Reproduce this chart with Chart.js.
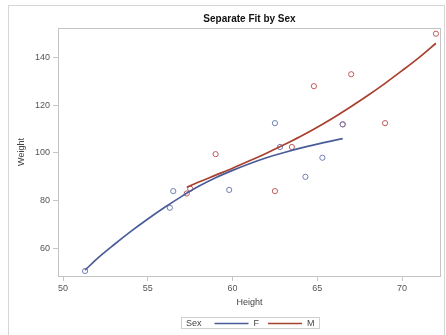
<!DOCTYPE html>
<html>
<head>
<meta charset="utf-8">
<script src="https://cdn.jsdelivr.net/npm/chart.js@4"></script>
<style>
  html, body { margin: 0; padding: 0; background: #fff; }
  #wrap { width: 446px; height: 335px; position: relative; }
</style>
</head>
<body>
<div id="wrap"><canvas id="c" width="446" height="335"></canvas></div>
<script>
// ---- Data (sashelp.class style) ----
const chartTitle = "Separate Fit by Sex";
const xTitle = "Height";
const yTitle = "Weight";
const legendTitle = "Sex";
const groups = ["F", "M"];

const heightF = [56.5, 65.3, 62.8, 59.8, 62.5, 51.3, 64.3, 56.3, 66.5];
const weightF = [84, 98, 102.5, 84.5, 112.5, 50.5, 90, 77, 112];
const heightM = [69, 63.5, 57.3, 62.5, 59, 72, 64.8, 67, 57.5, 66.5];
const weightM = [112.5, 102.5, 83, 84, 99.5, 150, 128, 133, 85, 112];

// fit curves
const fitHeightF = [51.3, 52, 53, 54, 55, 56, 57, 58, 59, 60, 61, 62, 63, 64, 65, 66, 66.5];
const fitWeightF = [50.9, 55.6, 61.5, 67.1, 72.3, 77.2, 81.8, 86.0, 89.6, 92.7, 95.5, 98.0, 100.1, 102.0, 103.7, 105.3, 106.0];
const fitHeightM = [57.3, 58, 59, 60, 61, 62, 63, 64, 65, 66, 67, 68, 69, 70, 71, 72];
const fitWeightM = [85.6, 87.8, 90.7, 93.6, 96.7, 99.9, 103.3, 106.9, 110.8, 115.0, 119.5, 124.2, 129.2, 134.5, 140.0, 146.0];

const xTicks = [50, 55, 60, 65, 70];
const yTicks = [60, 80, 100, 120, 140];

// ---- Styles ----
const lineColors = ["#4a5c9a", "#A8402F"];
const markerColors = ["#6F7EB3", "#C05A5A"];
const FONT = "'Liberation Sans', Arial, sans-serif";
const frameColor = "#c4c4c4";
const textColor = "#555555";

const pts = (xs, ys) => xs.map((x, i) => ({ x: x, y: ys[i] }));

const framePlugin = {
  id: 'frame',
  beforeDraw(chart) {
    const ctx = chart.ctx;
    ctx.save();
    ctx.strokeStyle = '#d6d6d6';
    ctx.lineWidth = 1;
    ctx.strokeRect(8.5, 5.5, 436, 340);
    ctx.restore();
  },
  afterDatasetsDraw(chart) {
    const a = chart.chartArea;
    const ctx = chart.ctx;
    ctx.save();
    ctx.strokeStyle = frameColor;
    ctx.lineWidth = 1;
    ctx.strokeRect(Math.round(a.left) + 0.5, Math.round(a.top) + 0.5,
                   Math.round(a.right - a.left) - 1, Math.round(a.bottom - a.top));
    ctx.restore();
  },
  afterDraw(chart) {
    // legend: "Sex  ——— F  ——— M" in a box
    const ctx = chart.ctx;
    const a = chart.chartArea;
    ctx.save();
    ctx.font = "9px " + FONT;
    ctx.textBaseline = 'middle';
    const fits = chart.data.datasets.filter(d => d.isFit);
    const lineLen = 34, gapTitle = 13, gapText = 5, gapItem = 9, padL = 5, padR = 4;
    let total = padL + ctx.measureText(legendTitle).width + gapTitle;
    fits.forEach((d, i) => {
      total += lineLen + gapText + ctx.measureText(d.label).width;
      if (i < fits.length - 1) total += gapItem;
    });
    total += padR;
    const left = Math.round((a.left + a.right) / 2 - total / 2);
    const top = 317, h = 11;
    ctx.strokeStyle = '#cfcfcf';
    ctx.lineWidth = 1;
    ctx.strokeRect(left + 0.5, top + 0.5, Math.round(total), h);
    const cy = top + h / 2 + 1;
    let x = left + padL;
    ctx.fillStyle = '#444';
    ctx.fillText(legendTitle, x, cy);
    x += ctx.measureText(legendTitle).width + gapTitle;
    fits.forEach((d, i) => {
      ctx.strokeStyle = d.borderColor;
      ctx.lineWidth = 1.6;
      ctx.beginPath();
      ctx.moveTo(x, cy);
      ctx.lineTo(x + lineLen, cy);
      ctx.stroke();
      x += lineLen + gapText;
      ctx.fillStyle = '#444';
      ctx.fillText(d.label, x, cy);
      x += ctx.measureText(d.label).width + gapItem;
    });
    ctx.restore();
  }
};

const ctx = document.getElementById('c').getContext('2d');
new Chart(ctx, {
  type: 'scatter',
  data: {
    datasets: [
      {
        label: groups[0], isFit: true, data: pts(fitHeightF, fitWeightF),
        showLine: true, borderColor: lineColors[0], borderWidth: 1.7,
        pointRadius: 0, cubicInterpolationMode: 'monotone', fill: false, order: 1
      },
      {
        label: groups[1], isFit: true, data: pts(fitHeightM, fitWeightM),
        showLine: true, borderColor: lineColors[1], borderWidth: 1.7,
        pointRadius: 0, cubicInterpolationMode: 'monotone', fill: false, order: 1
      },
      {
        label: groups[0] + ' obs', data: pts(heightF, weightF),
        borderColor: markerColors[0], backgroundColor: 'rgba(0,0,0,0)',
        pointRadius: 2.6, pointBorderWidth: 1, showLine: false, order: 2
      },
      {
        label: groups[1] + ' obs', data: pts(heightM, weightM),
        borderColor: markerColors[1], backgroundColor: 'rgba(0,0,0,0)',
        pointRadius: 2.6, pointBorderWidth: 1, showLine: false, order: 2
      }
    ]
  },
  options: {
    responsive: false,
    animation: false,
    events: [],
    layout: { padding: { left: 8, right: 4, top: 0, bottom: 23 } },
    plugins: {
      legend: { display: false },
      tooltip: { enabled: false },
      title: {
        display: true, text: chartTitle, fullSize: false,
        color: '#111', font: { family: FONT, size: 10, weight: 'bold' },
        padding: { top: 13, bottom: 3 }
      }
    },
    scales: {
      x: {
        type: 'linear', min: 49.7, max: 72.3,
        afterBuildTicks: s => { s.ticks = xTicks.map(v => ({ value: v })); },
        afterFit: s => { s.height = 36; },
        grid: { drawOnChartArea: false, drawTicks: true, tickLength: 5, color: frameColor },
        border: { display: false },
        ticks: { color: textColor, font: { family: FONT, size: 9 }, padding: 2, maxRotation: 0 },
        title: { display: true, text: xTitle, color: '#444', font: { family: FONT, size: 9 }, padding: { top: 2, bottom: 4 } }
      },
      y: {
        type: 'linear', min: 48.4, max: 152.4,
        afterBuildTicks: s => { s.ticks = yTicks.map(v => ({ value: v })); },
        afterFit: s => { s.width = 50; },
        grid: { drawOnChartArea: false, drawTicks: true, tickLength: 5, color: frameColor },
        border: { display: false },
        ticks: { color: textColor, font: { family: FONT, size: 9 }, padding: 3 },
        title: { display: true, text: yTitle, color: '#444', font: { family: FONT, size: 9 }, padding: { top: 8, bottom: 4 } }
      }
    }
  },
  plugins: [framePlugin]
});
</script>
</body>
</html>
